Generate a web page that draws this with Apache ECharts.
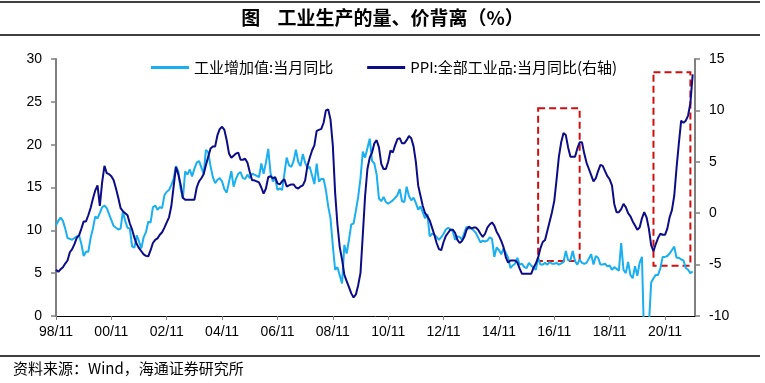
<!DOCTYPE html>
<html><head><meta charset="utf-8">
<script src="https://cdn.jsdelivr.net/npm/echarts@6/dist/echarts.min.js"></script>
<style>html,body{margin:0;padding:0;background:#fff}#c{width:765px;height:383px}</style>
</head><body><div id="c"></div>
<script>
// Category axis: one slot per month, 1998/11 .. 2021/12
const startYear = 1998, startMonth = 11, monthCount = 278;
const months = [];
for (let k = 0; k < monthCount; k++) {
  const m = startMonth - 1 + k;
  const y = startYear + Math.floor(m / 12);
  const mm = (m % 12) + 1;
  months.push(String(y).slice(2) + '/' + (mm < 10 ? '0' + mm : mm));
}
const tickLabels = ['98/11','00/11','02/11','04/11','06/11','08/11','10/11','12/11','14/11','16/11','18/11','20/11'];

const seriesNames = ['工业增加值:当月同比', 'PPI:全部工业品:当月同比(右轴)'];

// 工业增加值:当月同比 (left axis, %)
const iva = [
  10.6, 11.1, 11.5, 11.1, 10.2, 9.1, 9.0, 8.9, 9.1, 9.3, 9.4, 8.4,
  7.0, 7.5, 7.5, 9.1, 10.2, 11.6, 11.4, 12.0, 12.7, 12.9, 12.6, 11.9,
  11.2, 10.5, 10.3, 10.1, 10.2, 12.2, 11.1, 10.3, 10.2, 8.1, 8.0, 9.4,
  8.7, 7.9, 9.2, 9.8, 11.0, 10.9, 12.7, 12.9, 12.4, 12.7, 12.6, 14.1,
  14.5, 14.7, 15.3, 16.0, 17.5, 16.9, 14.9, 13.7, 16.9, 16.5, 17.1, 16.3,
  17.2, 17.9, 18.1, null, 16.6, 19.4, 19.1, 17.5, 16.2, 15.5, 15.9, 16.1,
  15.7, 14.8, 14.4, null, 16.9, 15.1, 16.0, 16.6, 16.8, 16.1, 16.0, 16.5,
  16.1, 16.6, 16.5, null, 16.2, 17.8, 16.6, 17.9, 19.5, 16.7, 15.7, 16.1,
  14.7, 14.9, 14.7, null, 18.5, 17.6, 17.4, 18.1, 19.4, 18.0, 17.5, 18.9,
  17.9, 17.3, 17.4, null, 15.4, 17.8, 15.7, 16.0, 16.0, 14.7, 12.8, 11.4,
  8.2, 5.4, 5.7, null, 3.8, 8.3, 7.3, 8.9, 10.7, 10.8, 12.3, 13.9,
  16.1, 19.2, 18.5, null, 20.7, 18.1, 17.8, 16.5, 13.7, 13.4, 13.9, 13.3,
  13.1, 13.3, 13.5, null, 14.1, 14.8, 13.4, 13.3, 15.1, 14.0, 13.5, 13.8,
  13.2, 12.4, 12.8, null, 11.4, 11.9, 9.3, 9.6, 9.5, 9.2, 8.9, 9.2,
  9.6, 10.1, 10.3, null, 9.9, 8.9, 9.3, 9.2, 8.9, 9.7, 10.4, 10.2,
  10.3, 10.0, 9.7, null, 8.6, 8.8, 8.7, 8.8, 9.2, 9.0, 6.9, 8.0,
  7.7, 7.2, 7.9, null, 6.8, 5.6, 5.9, 6.1, 6.8, 6.0, 6.1, 5.7,
  5.6, 6.2, 5.9, null, 5.4, 6.8, 6.0, 6.0, 6.2, 6.0, 6.3, 6.1,
  6.1, 6.2, 6.0, null, 6.3, 7.6, 6.5, 6.5, 7.6, 6.4, 6.0, 6.6,
  6.2, 6.1, 6.2, null, 7.2, 6.0, 7.0, 6.8, 6.0, 6.0, 6.1, 5.8,
  5.9, 5.4, 5.7, null, 5.3, 8.5, 5.4, 5.0, 6.3, 4.8, 4.4, 5.8,
  4.7, 6.2, 6.9, null, -13.5, -1.1, 3.9, 4.4, 4.8, 4.8, 5.6, 6.9,
  6.9, 7.0, 7.3, null, 8.1, 6.8, 6.8, 6.6, 6.5, 5.6, 5.4, 5.0, 5.2
];

// PPI:全部工业品:当月同比 (right axis, %)
const ppi = [
  -5.5, -5.7, -5.45, -5.25, -4.9, -4.6, -3.8, -3.5, -3.0, -2.4, -2.15, -1.5,
  -0.8, -0.8, -0.2, 0.5, 1.4, 2.2, 2.7, 0.7, 3.0, 4.6, 3.9, 3.8,
  3.6, 3.2, 2.4, 1.5, 0.5, 0.2, 0.0, -0.2, -1.0, -1.6, -2.4, -3.0,
  -3.4, -3.7, -4.0, -4.15, -4.2, -3.6, -2.9, -2.6, -2.45, -2.1, -1.85, -1.4,
  -0.9, -0.4, 0.7, 2.6, 4.5, 3.8, 2.8, 1.5, 1.3, 1.3, 1.3, 1.3,
  1.3, 2.5, 3.1, 3.4, 3.8, 4.7, 5.5, 6.3, 6.5, 6.5, 7.6, 8.2,
  8.4, 8.1, 7.1, 5.8, 5.4, 5.6, 5.8, 5.9, 5.2, 5.2, 5.3, 4.9,
  4.0, 3.2, 3.2, 3.1, 3.0, 2.5, 1.9, 2.4, 3.5, 3.6, 3.4, 3.5,
  2.9, 2.8, 3.1, 3.3, 2.6, 2.7, 2.8, 2.8, 2.5, 2.4, 2.6, 2.7,
  3.2, 4.6, 5.4, 6.1, 6.6, 8.0, 8.1, 8.2, 8.8, 10.0, 10.1, 9.1,
  6.6, 2.0, -1.1, -3.3, -4.5, -6.0, -6.6, -7.2, -7.8, -8.2, -7.9, -7.0,
  -5.8, -2.1, 1.7, 4.3, 5.4, 5.9, 6.8, 7.1, 6.4, 4.8, 4.3, 4.3,
  5.0, 6.1, 5.9, 6.6, 7.2, 7.3, 6.8, 6.8, 7.1, 7.5, 7.3, 6.5,
  5.0, 2.7, 1.7, 0.7, 0.0, -0.3, -0.7, -1.4, -2.1, -2.9, -3.5, -3.6,
  -2.8, -2.2, -1.9, -1.6, -1.6, -1.9, -2.6, -2.9, -2.7, -2.3, -1.6, -1.3,
  -1.5, -1.4, -1.4, -1.6, -2.0, -2.3, -2.0, -1.4, -1.1, -0.9, -1.2, -1.8,
  -2.2, -2.7, -3.3, -4.3, -4.8, -4.6, -4.6, -4.6, -4.8, -5.4, -5.9, -5.9,
  -5.9, -5.9, -5.9, -5.3, -4.9, -4.3, -3.4, -2.8, -2.6, -1.7, -0.8, 0.1,
  1.2, 3.3, 5.5, 6.9, 7.8, 7.6, 6.4, 5.5, 5.5, 5.5, 6.3, 6.9,
  6.9, 5.8, 4.9, 4.3, 3.7, 3.1, 3.4, 4.1, 4.7, 4.6, 4.1, 3.6,
  3.3, 2.7, 0.9, 0.1, 0.1, 0.4, 0.9, 0.6, 0.0, -0.3, -0.8, -1.2,
  -1.6, -1.4, -0.5, 0.1, -0.4, -1.5, -3.1, -3.7, -3.0, -2.4, -2.0, -2.1,
  -2.1, -1.5, -0.4, 0.3, 1.7, 4.4, 6.8, 9.0, 8.8, 9.0, 9.5, 10.7, 13.5
];

// Highlight boxes (month slot index range, right-axis value range)
const boxStart = [209, 259];
const boxEnd   = [227, 275];
const boxTop   = [10.2, 13.7];
const boxBottom = [-4.65, -5.1];

const leftTicks = {min: 0, max: 30, interval: 5};
const rightTicks = {min: -10, max: 15, interval: 5};

const chart = echarts.init(document.getElementById('c'), null, {renderer: 'canvas'});
const numFont = 'Liberation Sans, Arial, sans-serif';
const cjkFont = '"Noto Sans CJK SC", sans-serif';
const axisGray = '#808080';

const boxes = boxStart.map((s, i) => [
  {xAxis: months[s], yAxis: boxTop[i]},
  {xAxis: months[boxEnd[i]], yAxis: boxBottom[i]}
]);

chart.setOption({
  animation: false,
  backgroundColor: '#ffffff',
  grid: {left: 56, right: 70, top: 59, bottom: 67, containLabel: false},
  legend: {
    left: 146, top: 55, icon: 'rect', itemWidth: 38, itemHeight: 3, itemGap: 34,
    textStyle: {fontFamily: cjkFont, fontSize: 15, color: '#000'},
    data: seriesNames
  },
  xAxis: {
    type: 'category', data: months, boundaryGap: false,
    axisLine: {lineStyle: {color: '#000', width: 1}},
    axisTick: {show: true, length: 4, lineStyle: {color: axisGray},
      interval: (i, v) => tickLabels.indexOf(v) >= 0},
    axisLabel: {interval: (i, v) => tickLabels.indexOf(v) >= 0, margin: 9,
      fontFamily: numFont, fontSize: 14, color: '#000'},
    splitLine: {show: false}
  },
  yAxis: [
    {type: 'value', min: leftTicks.min, max: leftTicks.max, interval: leftTicks.interval,
     axisLine: {show: true, lineStyle: {color: axisGray, width: 2}},
     axisTick: {show: true, length: 5, lineStyle: {color: axisGray, width: 1.5}},
     axisLabel: {margin: 14, fontFamily: numFont, fontSize: 14, color: '#000'},
     splitLine: {show: false}},
    {type: 'value', position: 'right', min: rightTicks.min, max: rightTicks.max, interval: rightTicks.interval,
     axisLine: {show: true, lineStyle: {color: axisGray, width: 2}},
     axisTick: {show: true, length: 5, lineStyle: {color: axisGray, width: 1.5}},
     axisLabel: {margin: 14, fontFamily: numFont, fontSize: 14, color: '#000'},
     splitLine: {show: false}}
  ],
  series: [
    {name: seriesNames[0], type: 'line', yAxisIndex: 0, data: iva, showSymbol: false, symbol: 'none',
     connectNulls: true, clip: true, lineStyle: {color: '#1AAFEE', width: 2}, itemStyle: {color: '#1AAFEE'}, z: 2},
    {name: seriesNames[1], type: 'line', yAxisIndex: 1, data: ppi, showSymbol: false, symbol: 'none',
     clip: true, lineStyle: {color: '#0C0C86', width: 2}, itemStyle: {color: '#0C0C86'}, z: 3,
     markArea: {silent: true, itemStyle: {color: 'rgba(0,0,0,0)', borderColor: '#D01010', borderWidth: 2, borderType: [7, 4]},
       data: boxes}}
  ],
  graphic: [
    {type: 'line', shape: {x1: 0, y1: 2, x2: 760, y2: 2}, style: {stroke: '#000', lineWidth: 1.5}},
    {type: 'line', shape: {x1: 0, y1: 35, x2: 760, y2: 35}, style: {stroke: '#000', lineWidth: 1.5}},
    {type: 'line', shape: {x1: 0, y1: 356, x2: 760, y2: 356}, style: {stroke: '#000', lineWidth: 1.5}},
    {type: 'text', left: 'center', top: 8,
     style: {text: '图    工业生产的量、价背离（%）', font: 'bold 19px "Noto Sans CJK SC", sans-serif', fill: '#000'}},
    {type: 'text', left: 13, top: 361,
     style: {text: '资料来源：Wind，海通证券研究所', font: '15px "Noto Sans CJK SC", sans-serif', fill: '#000'}}
  ]
});
</script></body></html>
